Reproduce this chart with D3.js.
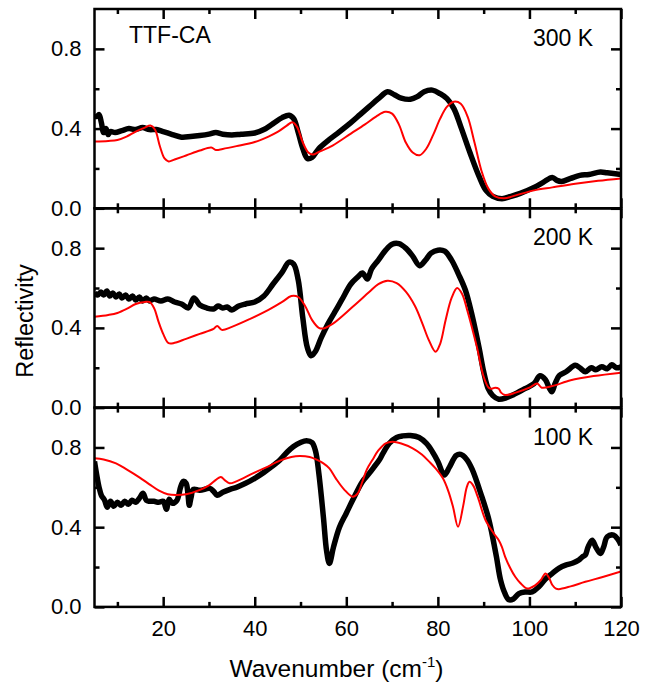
<!DOCTYPE html>
<html>
<head>
<meta charset="utf-8">
<script src="https://cdn.jsdelivr.net/npm/d3@7"></script>
<style>
  body { margin: 0; background: #fff; }
  svg { display: block; font-family: "Liberation Sans", Arial, sans-serif; }
</style>
</head>
<body>
<div id="chart"></div>
<script>
// measured spectra, [wavenumber, reflectivity]
const black300 = [[5,0.47],[5.5,0.46],[6,0.47],[6.5,0.43],[7,0.38],[7.5,0.40],[8,0.37],[8.5,0.385],[9.5,0.38],[11,0.39],[12.5,0.40],[14,0.395],[15.5,0.405],[17,0.395],[18.5,0.395],[20,0.385],[22,0.37],[24,0.357],[26,0.36],[28,0.365],[30,0.372],[31.5,0.38],[33,0.372],[35,0.368],[37,0.372],[40,0.378],[42,0.395],[44,0.425],[46,0.455],[47.5,0.467],[48.5,0.45],[49.5,0.38],[50.5,0.3],[51.5,0.25],[52.5,0.255],[54,0.3],[56,0.34],[58,0.375],[61,0.43],[63,0.47],[65,0.51],[67,0.55],[69,0.585],[70.5,0.57],[72,0.553],[74,0.547],[75.5,0.56],[77,0.585],[78.8,0.593],[80.5,0.575],[82,0.55],[83.5,0.5],[85,0.41],[87,0.28],[89,0.16],[90.5,0.09],[92,0.06],[94,0.048],[96,0.06],[98,0.075],[101,0.105],[103,0.13],[105,0.155],[106,0.14],[107,0.135],[109,0.15],[111,0.165],[113,0.17],[115.5,0.182],[117,0.178],[120,0.17]];
const red300 = [[5,0.335],[8,0.338],[10,0.343],[12,0.36],[14,0.385],[16,0.405],[17.2,0.415],[18.2,0.395],[19.3,0.31],[20.3,0.25],[21.2,0.235],[22.5,0.245],[25,0.265],[28,0.29],[30.5,0.305],[31.5,0.293],[33,0.298],[36,0.312],[40,0.333],[43,0.36],[45,0.383],[47,0.415],[48.2,0.432],[49.2,0.41],[50.5,0.33],[51.7,0.28],[52.7,0.27],[54,0.283],[57,0.315],[61,0.375],[64,0.42],[66.5,0.46],[68.5,0.484],[70,0.475],[71.5,0.42],[73,0.33],[74.5,0.28],[76,0.266],[77.5,0.3],[79,0.37],[80.5,0.45],[82,0.51],[83.5,0.535],[85,0.525],[86.5,0.46],[88,0.33],[89.5,0.19],[91,0.1],[92.5,0.06],[94.5,0.05],[97,0.065],[101,0.09],[105,0.105],[110,0.123],[115,0.138],[120,0.15]];

const black200 = [[5,0.575],[5.7,0.565],[6.4,0.58],[7,0.565],[7.7,0.585],[8.3,0.56],[9,0.575],[9.7,0.555],[10.4,0.57],[11,0.55],[11.8,0.565],[12.5,0.545],[13.3,0.56],[14,0.54],[14.8,0.555],[15.5,0.535],[16.3,0.55],[17,0.535],[18,0.545],[19.5,0.535],[21,0.545],[22.5,0.53],[24,0.52],[25.5,0.5],[26.7,0.55],[28,0.515],[29.5,0.5],[31,0.495],[32,0.51],[33,0.5],[34,0.505],[35,0.49],[36.5,0.51],[38,0.52],[40,0.53],[42,0.56],[44,0.62],[46,0.68],[47.5,0.73],[48.5,0.72],[49.5,0.64],[50.5,0.45],[51.5,0.3],[52.3,0.26],[53.2,0.28],[54.5,0.35],[56,0.42],[57.5,0.48],[59,0.54],[61,0.62],[62.5,0.655],[63.5,0.675],[64.6,0.645],[65.5,0.695],[67,0.74],[68.6,0.79],[70,0.82],[71.5,0.823],[73,0.8],[74.5,0.76],[76,0.712],[77.3,0.74],[78.5,0.775],[80,0.79],[81.5,0.785],[83,0.74],[84.5,0.67],[86,0.59],[87.5,0.46],[89,0.3],[90,0.18],[91,0.095],[92,0.06],[93.3,0.042],[95,0.05],[96.5,0.065],[99,0.095],[101,0.12],[102.3,0.16],[103.5,0.14],[104.3,0.1],[104.9,0.08],[105.6,0.12],[106.5,0.16],[108,0.18],[110,0.212],[111,0.2],[112.2,0.18],[113.5,0.2],[114.5,0.19],[115.8,0.205],[117,0.195],[118,0.215],[119,0.2],[120,0.205]];
const red200 = [[5,0.456],[8,0.465],[10,0.475],[12,0.495],[14,0.52],[16,0.53],[17,0.53],[18,0.5],[19,0.43],[20,0.37],[21.2,0.323],[22.5,0.325],[25,0.345],[28,0.37],[31,0.395],[31.8,0.41],[32.8,0.39],[35,0.405],[39,0.445],[43,0.49],[46,0.53],[48,0.56],[49.5,0.555],[51,0.51],[52.5,0.44],[54,0.4],[55,0.397],[57,0.42],[61.4,0.506],[65,0.58],[67,0.62],[69,0.637],[71,0.625],[73,0.582],[75,0.51],[76.6,0.423],[78,0.34],[79.5,0.28],[80.5,0.32],[81.7,0.44],[83,0.55],[84.2,0.6],[85.3,0.57],[86.4,0.49],[88.5,0.306],[90,0.155],[91.1,0.1],[91.8,0.095],[92.5,0.1],[93.3,0.095],[93.8,0.075],[94.7,0.063],[97,0.075],[100,0.1],[101.7,0.121],[102.7,0.1],[105,0.108],[109,0.137],[114,0.158],[120,0.175]];

const black100 = [[5,0.73],[5.5,0.66],[6,0.6],[6.5,0.56],[7.2,0.535],[7.8,0.5],[8.5,0.53],[9.2,0.505],[10,0.525],[10.8,0.51],[11.6,0.53],[12.4,0.515],[13.2,0.535],[14,0.525],[14.8,0.545],[15.6,0.57],[16.3,0.535],[17,0.53],[18,0.53],[19,0.525],[20,0.53],[20.7,0.49],[21.3,0.54],[22,0.52],[23,0.535],[23.8,0.6],[24.4,0.63],[25,0.62],[25.4,0.57],[25.7,0.51],[26.1,0.55],[26.6,0.59],[28,0.585],[30.2,0.595],[31,0.58],[31.8,0.56],[33,0.575],[34.6,0.59],[36,0.6],[38,0.62],[40,0.645],[42,0.675],[43.5,0.7],[45.5,0.737],[47,0.775],[48.4,0.804],[50,0.825],[51.3,0.834],[52.5,0.825],[53.3,0.78],[54,0.67],[55,0.45],[55.7,0.28],[56.3,0.218],[57.2,0.3],[58.5,0.4],[60,0.47],[61.4,0.536],[63.5,0.628],[65,0.67],[66,0.7],[67.2,0.737],[68,0.77],[69.4,0.821],[71,0.85],[72.3,0.858],[74,0.86],[75.9,0.85],[77.5,0.82],[78.8,0.779],[80,0.73],[81.4,0.662],[82.5,0.7],[84,0.76],[85,0.765],[86.3,0.74],[87.5,0.69],[89.6,0.553],[91,0.45],[91.8,0.369],[92.8,0.25],[93.7,0.134],[94.6,0.07],[95.5,0.036],[96.5,0.04],[97.7,0.067],[99,0.075],[100.6,0.075],[102,0.1],[103.5,0.14],[105,0.168],[106.5,0.195],[107.9,0.21],[109.5,0.22],[110.8,0.235],[111.5,0.25],[112.2,0.26],[112.8,0.3],[113.7,0.335],[114.5,0.3],[115.5,0.268],[116.2,0.3],[117,0.352],[118.4,0.36],[119.3,0.34],[120,0.31]];
const red100 = [[5,0.746],[7,0.74],[9.7,0.72],[12,0.69],[14.8,0.65],[17,0.615],[19.1,0.583],[21,0.565],[22.8,0.561],[25,0.565],[27.9,0.586],[30,0.61],[31.5,0.637],[32.6,0.652],[33.5,0.635],[34.5,0.62],[36,0.63],[39.6,0.67],[42.5,0.7],[45.5,0.734],[48,0.752],[49.8,0.757],[52,0.752],[53.4,0.74],[55,0.72],[56.3,0.695],[57.7,0.645],[59.5,0.59],[61.4,0.553],[62.5,0.57],[63.5,0.628],[64.5,0.69],[65.7,0.737],[67,0.785],[68.6,0.821],[70.1,0.829],[72,0.82],[74.5,0.796],[76.5,0.765],[78.1,0.729],[79.5,0.695],[81.1,0.645],[82.3,0.58],[83.3,0.503],[84.4,0.402],[85.5,0.503],[86.3,0.6],[86.9,0.628],[87.7,0.61],[88.7,0.553],[90.4,0.436],[92.2,0.369],[93.3,0.335],[94,0.3],[94.7,0.251],[95.8,0.195],[96.9,0.151],[98,0.12],[99.5,0.092],[101.3,0.109],[102.5,0.135],[103.5,0.168],[104.2,0.15],[105,0.11],[105.8,0.092],[106.4,0.089],[109,0.103],[112.2,0.126],[116,0.15],[120,0.178]];

const temps = ["300 K", "200 K", "100 K"];
const xMajor = [20, 40, 60, 80, 100, 120];
const xMinor = [10, 30, 50, 70, 90, 110];
const yMajor = [0, 0.4, 0.8];
const yMinor = [0.2, 0.6];

const panels = [
  {label: temps[0], black: black300, red: red300},
  {label: temps[1], black: black200, red: red200},
  {label: temps[2], black: black100, red: red100}
];

const W = 654, H = 683;
const plotLeft = 94.5, plotRight = 621, plotTop = 9, panelH = 199.3;

const svg = d3.select("#chart").append("svg")
  .attr("width", W)
  .attr("height", H);

const x = d3.scaleLinear().domain([5, 120]).range([plotLeft, plotRight]);

const line = d3.line()
  .curve(d3.curveCatmullRom.alpha(0.5))
  .x(d => x(d[0]));

panels.forEach((p, i) => {
  const y0 = plotTop + i * panelH;
  const y = d3.scaleLinear().domain([0, 1]).range([y0 + panelH, y0]);
  const g = svg.append("g");

  const clipId = "clip" + i;
  svg.append("clipPath").attr("id", clipId)
    .append("rect")
    .attr("x", plotLeft).attr("y", y0)
    .attr("width", plotRight - plotLeft).attr("height", panelH);

  line.y(d => y(d[1]));

  g.append("path")
    .datum(p.black)
    .attr("d", line)
    .attr("clip-path", `url(#${clipId})`)
    .style("fill", "none")
    .style("stroke", "#000")
    .style("stroke-width", 5.5)
    .style("stroke-linejoin", "round");

  g.append("path")
    .datum(p.red)
    .attr("d", line)
    .attr("clip-path", `url(#${clipId})`)
    .style("fill", "none")
    .style("stroke", "#ff0000")
    .style("stroke-width", 2)
    .style("stroke-linejoin", "round");

  // axes, all ticks point inward
  g.append("g").attr("transform", `translate(${plotLeft},0)`)
    .call(d3.axisLeft(y).tickValues(yMajor).tickSize(-10).tickPadding(13).tickFormat(d3.format(".1f")));
  g.append("g").attr("transform", `translate(${plotLeft},0)`)
    .call(d3.axisLeft(y).tickValues(yMinor).tickSize(-5).tickFormat(""));
  g.append("g").attr("transform", `translate(${plotRight},0)`)
    .call(d3.axisRight(y).tickValues(yMajor).tickSize(-10).tickFormat(""));
  g.append("g").attr("transform", `translate(${plotRight},0)`)
    .call(d3.axisRight(y).tickValues(yMinor).tickSize(-5).tickFormat(""));

  g.append("g").attr("transform", `translate(0,${y0 + panelH})`)
    .call(d3.axisBottom(x).tickValues(xMajor).tickSize(-10).tickPadding(13)
      .tickFormat(i === 2 ? d3.format("d") : ""));
  g.append("g").attr("transform", `translate(0,${y0 + panelH})`)
    .call(d3.axisBottom(x).tickValues(xMinor).tickSize(-5).tickFormat(""));
  g.append("g").attr("transform", `translate(0,${y0})`)
    .call(d3.axisTop(x).tickValues(xMajor).tickSize(-10).tickFormat(""));
  g.append("g").attr("transform", `translate(0,${y0})`)
    .call(d3.axisTop(x).tickValues(xMinor).tickSize(-5).tickFormat(""));

  g.append("rect")
    .attr("x", plotLeft).attr("y", y0)
    .attr("width", plotRight - plotLeft).attr("height", panelH)
    .style("fill", "none")
    .style("stroke", "#000")
    .style("stroke-width", 2.5);

  g.append("text")
    .attr("x", 593)
    .attr("y", y0 + 37)
    .attr("text-anchor", "end")
    .style("font-size", "23px")
    .text(p.label);
});

svg.selectAll(".domain").remove();
svg.selectAll(".tick line").style("stroke", "#000").style("stroke-width", 2.5);
svg.selectAll(".tick text")
  .style("font-family", "'Liberation Sans', Arial, sans-serif")
  .style("font-size", "22px")
  .style("fill", "#000");

svg.append("text")
  .attr("x", 129)
  .attr("y", 43)
  .style("font-size", "23px")
  .text("TTF-CA");

const xt = svg.append("text")
  .attr("x", 336.5)
  .attr("y", 677)
  .attr("text-anchor", "middle")
  .style("font-size", "24.5px");
xt.append("tspan").text("Wavenumber (cm");
xt.append("tspan").attr("dy", -10).style("font-size", "15px").text("-1");
xt.append("tspan").attr("dy", 10).text(")");

svg.append("text")
  .attr("transform", "translate(33,321) rotate(-90)")
  .attr("text-anchor", "middle")
  .style("font-size", "23.5px")
  .text("Reflectivity");
</script>
</body>
</html>
